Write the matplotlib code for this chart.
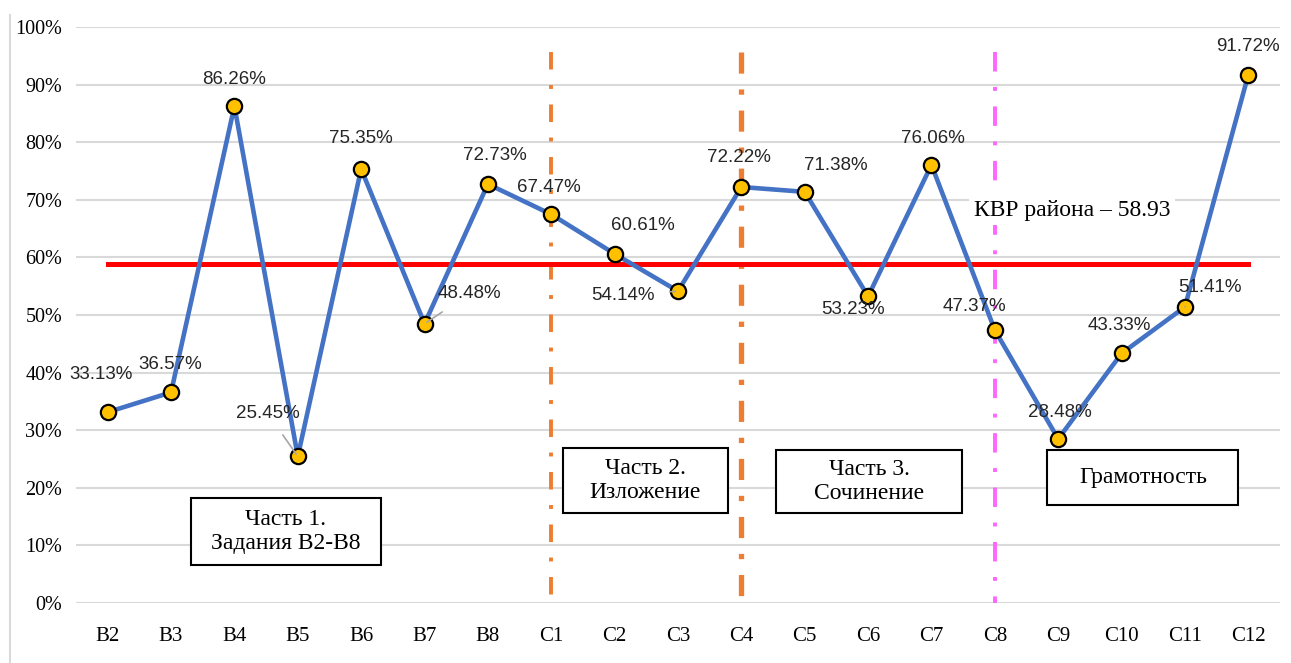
import matplotlib.pyplot as plt
from matplotlib.lines import Line2D
from matplotlib.patches import Rectangle

# данные
labels = ['B2', 'B3', 'B4', 'B5', 'B6', 'B7', 'B8', 'C1', 'C2', 'C3',
          'C4', 'C5', 'C6', 'C7', 'C8', 'C9', 'C10', 'C11', 'C12']
values = [33.13, 36.57, 86.26, 25.45, 75.35, 48.48, 72.73, 67.47, 60.61, 54.14,
          72.22, 71.38, 53.23, 76.06, 47.37, 28.48, 43.33, 51.41, 91.72]
kvr = 58.93

# смещения подписей в пикселях (dx, dy)
offsets = [(-7, 38), (-1, 28), (0, 27), (-30, 43), (0, 30), (45, 30), (7, 29),
           (-2, 27), (28, 28), (-55, -4), (-2, 30), (31, 26), (-15, -13),
           (1, 26), (-20, 24), (2, 26), (-2, 28), (25, 19), (0, 28)]
leaders = {'B5', 'B7', 'C3', 'C11'}

serif = 'Liberation Serif'
sans = 'Liberation Sans'

fig = plt.figure(figsize=(12.91, 6.63), dpi=100)
ax = fig.add_axes([76 / 1291, 1 - 603 / 663, (1280 - 76) / 1291, (603 - 27) / 663])
x = list(range(len(labels)))

ax.set_xlim(-0.5, len(labels) - 0.5)
ax.set_ylim(0, 100)
ax.set_yticks(range(0, 101, 10))
ax.set_yticklabels([str(v) + '%' for v in range(0, 101, 10)], family=serif, fontsize=14.5)
ax.set_xticks(x)
ax.set_xticklabels(labels, family=serif, fontsize=15)
ax.tick_params(axis='x', length=0, pad=17)
ax.tick_params(axis='y', length=0, pad=10)
for s in ax.spines.values():
    s.set_visible(False)
ax.grid(axis='y', color='#d9d9d9', lw=1.5)
ax.set_axisbelow(True)

# вертикальные разделители (рисуем сверху вниз, чтобы штрих начинался у верха)
ax.plot([7, 7], [95.7, 0], color='#ed7d31', lw=2.8, dashes=(4.5, 4, 1, 4), zorder=2)
ax.plot([10, 10], [95.7, 0], color='#ed7d31', lw=3.8, dashes=(4, 3, 1, 3), zorder=2)
ax.plot([14, 14], [95.7, 0], color='#ff66ff', lw=2.8, dashes=(5, 4, 1, 4), zorder=2)

# средний уровень района
ax.plot([0, len(labels) - 1], [kvr, kvr], color='#ff0000', lw=3.6, zorder=3)

ax.plot(x, values, color='#4472c4', lw=3.3, marker='o', ms=11,
        mfc='#ffc000', mec='black', mew=1.6, zorder=4)

for xi, v, lab, (dx, dy) in zip(x, values, labels, offsets):
    props = None
    if lab in leaders:
        props = dict(arrowstyle='-', color='#a6a6a6', lw=1.2, shrinkA=9, shrinkB=2)
    ax.annotate('%.2f%%' % v, (xi, v), xytext=(dx, dy), textcoords='offset pixels',
                ha='center', va='center', family=sans, fontsize=13.5,
                color='#262626', arrowprops=props, zorder=5)

# рамки с подписями частей (в координатах данных)
boxes = [
    (1.31, 6.6, 3.0, 11.6, 'Часть 1.\nЗадания B2-B8'),
    (7.18, 15.6, 2.61, 11.3, 'Часть 2.\nИзложение'),
    (10.55, 15.6, 2.93, 11.0, 'Часть 3.\nСочинение'),
    (14.83, 17.0, 3.01, 9.6, 'Грамотность'),
]
for bx, by, bw, bh, txt in boxes:
    ax.add_patch(Rectangle((bx, by), bw, bh, fc='white', ec='black', lw=1.5, zorder=6))
    ax.text(bx + bw / 2, by + bh / 2, txt, ha='center', va='center',
            family=serif, fontsize=17, linespacing=1.15, zorder=7)

ax.text(15.22, 68.2, 'КВР района – 58.93', ha='center', va='center',
        family=serif, fontsize=17, zorder=6,
        bbox=dict(boxstyle='square,pad=0.2', fc='white', ec='none'))

# рамка слева
fig.add_artist(Line2D([10 / 1291, 10 / 1291], [0, 1 - 15 / 663], color='#d9d9d9', lw=1.5))

plt.savefig('out.png', dpi=100)
plt.close()
